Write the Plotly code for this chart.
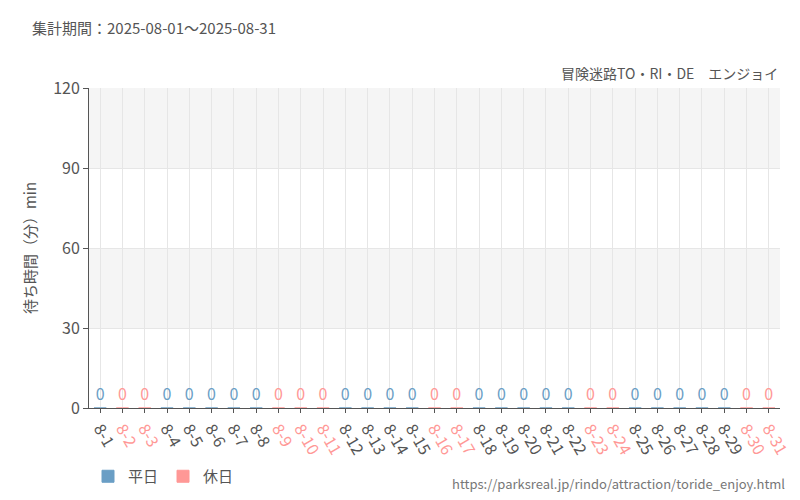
import plotly.graph_objects as go

days = [f"8-{d}" for d in range(1, 32)]
holidays = [2, 3, 9, 10, 11, 16, 17, 23, 24, 30, 31]
waits = [0] * 31
is_holiday = [d in holidays for d in range(1, 32)]

blue = "#6a9ec5"
red = "#ff9896"
font = "Noto Sans CJK JP"

fig = go.Figure()
for name, flag, col in [("平日", False, blue), ("休日", True, red)]:
    xs = [days[i] for i in range(31) if is_holiday[i] == flag]
    ys = [waits[i] for i in range(31) if is_holiday[i] == flag]
    fig.add_trace(go.Bar(x=xs, y=ys, name=name, marker_color=col, marker_line_color=col,
                         marker_line_width=1, text=[str(v) for v in ys], textposition="outside",
                         cliponaxis=False, textfont=dict(color=col, size=16)))

ticktext = [f"<span style='color:{red if h else '#555'}'>{d}</span>" for d, h in zip(days, is_holiday)]

# alternating bands
for y0 in (30, 90):
    fig.add_shape(type="rect", xref="paper", yref="y", x0=0, x1=1, y0=y0, y1=y0 + 30,
                  fillcolor="#f5f5f5", line_width=0, layer="below")

fig.update_layout(
    width=800, height=500, plot_bgcolor="white", paper_bgcolor="white",
    font=dict(family=font, color="#555", size=14),
    margin=dict(l=81, r=28, t=80, b=100, autoexpand=False),
    barmode="overlay", bargap=0.45, showlegend=True,
    legend=dict(orientation="h", x=0.1, xref="container", y=0.03, yref="container",
                xanchor="left", yanchor="bottom", font=dict(size=15)),
    title=dict(text="集計期間：2025-08-01～2025-08-31", x=0.03, y=0.97, xanchor="left",
               font=dict(size=15, color="#555")),
)
fig.update_xaxes(categoryorder="array", categoryarray=days, tickmode="array", tickvals=days,
                 ticktext=ticktext, tickangle=60, showgrid=True, gridcolor="#e6e6e6",
                 showline=True, linecolor="#555", ticks="outside", ticklen=4, tickcolor="#555",
                 tickfont=dict(size=16), automargin=False)
fig.update_yaxes(range=[0, 120], tickvals=[0, 30, 60, 90, 120], gridcolor="#e6e6e6",
                 showline=True, linecolor="#555", ticks="outside", ticklen=5, tickcolor="#555",
                 title=dict(text="待ち時間（分）min", font=dict(size=15), standoff=12),
                 tickfont=dict(size=16), automargin=False)
fig.add_annotation(text="冒険迷路TO・RI・DE　エンジョイ", xref="paper", yref="paper", x=1, y=1.01,
                   xanchor="right", yanchor="bottom", showarrow=False, font=dict(size=14))
fig.add_annotation(text="https://parksreal.jp/rindo/attraction/toride_enjoy.html", xref="paper",
                   yref="paper", x=1.01, y=-0.2, xanchor="right", yanchor="top", showarrow=False,
                   font=dict(size=13, color="#777"))
fig.write_html("out.html")
